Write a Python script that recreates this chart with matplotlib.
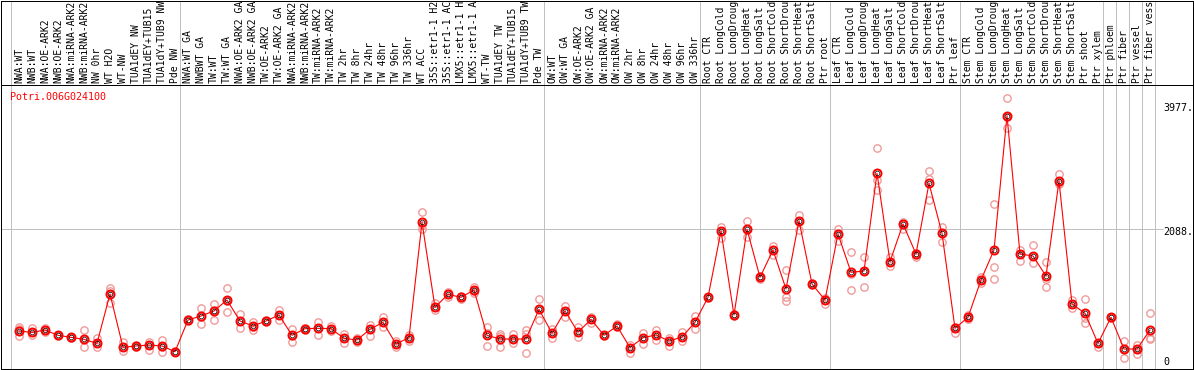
import numpy as np
import matplotlib
matplotlib.use("Agg")
import matplotlib.pyplot as plt

GENE = "Potri.006G024100"

SAMPLES = [
    "NWA:WT", "NWB:WT", "NWA:OE-ARK2", "NWB:OE-ARK2", "NWA:miRNA-ARK2",
    "NWB:miRNA-ARK2", "NW 0hr", "WT H2O", "WT-NW", "TUA1dEY NW",
    "TUA1dEY+TUB15", "TUA1dY+TUB9 NW", "Pde NW",
    "NWA:WT GA", "NWBWT GA", "TW:WT", "TW:WT GA", "NWA:OE-ARK2 GA",
    "NWB:OE-ARK2 GA", "TW:OE-ARK2", "TW:OE-ARK2 GA", "NWA:miRNA-ARK2",
    "NWB:miRNA-ARK2", "TW:miRNA-ARK2", "TW:miRNA-ARK2", "TW 2hr", "TW 8hr",
    "TW 24hr", "TW 48hr", "TW 96hr", "TW 336hr", "WT ACC", "35S::etr1-1 H2",
    "35S::etr1-1 AC", "LMX5::etr1-1 H", "LMX5::etr1-1 A", "WT-TW",
    "TUA1dEY TW", "TUA1dEY+TUB15", "TUA1dY+TUB9 TW", "Pde TW",
    "OW:WT", "OW:WT GA", "OW:OE-ARK2", "OW:OE-ARK2 GA", "OW:miRNA-ARK2",
    "OW:miRNA-ARK2", "OW 2hr", "OW 8hr", "OW 24hr", "OW 48hr", "OW 96hr",
    "OW 336hr",
    "Root CTR", "Root LongCold", "Root LongDroug", "Root LongHeat",
    "Root LongSalt", "Root ShortCold", "Root ShortDrou", "Root ShortHeat",
    "Root ShortSalt", "Ptr root",
    "Leaf CTR", "Leaf LongCold", "Leaf LongDroug", "Leaf LongHeat",
    "Leaf LongSalt", "Leaf ShortCold", "Leaf ShortDrou", "Leaf ShortHeat",
    "Leaf ShortSalt", "Ptr leaf",
    "Stem CTR", "Stem LongCold", "Stem LongDroug", "Stem LongHeat",
    "Stem LongSalt", "Stem ShortCold", "Stem ShortDrou", "Stem ShortHeat",
    "Stem ShortSalt", "Ptr shoot", "Ptr xylem",
    "Ptr phloem", "Ptr fiber", "Ptr vessel", "Ptr fiber vess",
]

# first sample index of each block (gray separators)
GROUP_STARTS = [0, 13, 41, 53, 63, 73, 84, 85, 86, 87, 88]

MEANS = [
    541, 521, 556, 476, 445, 415, 354, 1102, 294, 314, 329, 314, 228,
    708, 769, 845, 1011, 693, 617, 693, 784, 476, 577, 582, 577, 430, 405,
    567, 673, 344, 440, 2189, 900, 1097, 1052, 1163, 476, 420, 420, 420, 870,
    506, 845, 521, 718, 476, 617, 289, 440, 481, 390, 450, 673,
    1052, 2058, 784, 2083, 1355, 1769, 1178, 2214, 1254, 1011,
    2012, 1431, 1451, 2932, 1593, 2164, 1709, 2780, 2022, 582,
    749, 1315, 1769, 3806, 1709, 1679, 1375, 2816, 951, 809, 354,
    749, 268, 268, 556,
]

REPLICATES = [
    [607, 567, 465], [582, 521, 476], [582, 556, 531], [486, 476, 465],
    [455, 440, 430], [556, 415, 294], [430, 354, 294], [1188, 1153, 971],
    [380, 294, 243], [329, 304, 304], [380, 329, 253], [405, 304, 228],
    [243, 228, 228],
    [723, 708, 693], [895, 759, 642], [951, 860, 708], [1188, 1001, 824],
    [794, 693, 582], [683, 607, 556], [708, 693, 678], [860, 784, 708],
    [567, 465, 380], [592, 577, 562], [683, 582, 481], [617, 577, 546],
    [496, 430, 354], [430, 405, 380], [632, 567, 465], [749, 683, 607],
    [395, 344, 294], [481, 440, 395], [2341, 2149, 2088], [971, 900, 860],
    [1128, 1097, 1062], [1072, 1052, 1032], [1214, 1153, 1112],
    [597, 506, 314], [491, 465, 294], [491, 415, 354], [556, 491, 203],
    [1021, 870, 708],
    [567, 506, 440], [920, 845, 749], [607, 521, 455], [759, 718, 668],
    [486, 476, 465], [642, 617, 597], [329, 289, 213], [506, 440, 339],
    [556, 481, 405], [430, 390, 314], [521, 450, 390], [769, 673, 567],
    [1062, 1052, 1037], [2123, 2058, 1946], [794, 784, 774],
    [2209, 2083, 1962], [1375, 1355, 1335], [1835, 1769, 1694],
    [1466, 1062, 1001], [2300, 2214, 2073], [1264, 1254, 1239],
    [1037, 1011, 946],
    [2083, 2012, 1911], [1744, 1401, 1163], [1658, 1451, 1214],
    [3311, 2831, 2679], [1668, 1593, 1527], [2199, 2164, 2088],
    [1719, 1694, 1668], [2967, 2841, 2528], [2113, 2022, 1886],
    [607, 582, 516],
    [784, 749, 718], [1355, 1315, 1264], [2462, 1507, 1325],
    [4069, 3791, 3614], [1770, 1709, 1603], [1845, 1679, 1567],
    [1593, 1325, 1203], [2917, 2790, 2765], [1011, 951, 885],
    [1021, 733, 668], [364, 354, 304],
    [759, 749, 739], [390, 268, 137], [329, 268, 193], [809, 440, 420],
]

Y_TICKS = [0, 2088, 3977]
Y_TICK_LABELS = ["0", "2088.", "3977."]

W, H = 1194, 370
GRAY = "#c0c0c0"
PINK = "#f09a9a"
MONO = "DejaVu Sans Mono"

fig = plt.figure(figsize=(W / 100, H / 100), dpi=100)

# pixel geometry of the original: column i sits at x = 19 + 13 * i
x_left = (1 - 19) / 13
x_right = (1193 - 19) / 13

ax = fig.add_axes([1 / W, 1 / H, 1192 / W, 284 / H])
lab = fig.add_axes([1 / W, 285 / H, 1192 / W, 84.5 / H], sharex=ax)

for a in (ax, lab):
    a.set_xlim(x_left, x_right)
    a.set_xticks([])
    a.set_yticks([])
    for s in a.spines.values():
        s.set_linewidth(0.72)
        s.set_color("black")
    for g in GROUP_STARTS:
        a.axvline(g - 0.615, color=GRAY, lw=0.72, zorder=0)

ax.set_ylim((366.7 - 369) / 0.06596, (366.7 - 85) / 0.06596)
lab.set_ylim(0, 1)

# horizontal midline
ax.hlines(2088, x_left, (1163 - 19) / 13, color=GRAY, lw=0.72, zorder=0)

idx = np.arange(len(SAMPLES))

# replicates
rx = np.concatenate([[i] * len(r) for i, r in enumerate(REPLICATES)])
ry = np.concatenate(REPLICATES)
ax.plot(rx, ry, "o", ms=5.3, mfc="none", mec=PINK, mew=1.0, zorder=2)

# mean line and markers
ax.plot(idx, MEANS, "-", color="red", lw=0.8, zorder=3)
ax.plot(idx, MEANS, "o", ms=5.8, mfc="none", mec="red", mew=1.4, zorder=4)
ax.plot(idx, MEANS, "o", ms=3.4, mfc="none", mec="black", mew=0.5, zorder=5)

# sample labels on top
for i, name in enumerate(SAMPLES):
    lab.text(i, 2 / 84.5, name, rotation=90, ha="center", va="bottom",
             fontsize=7.0, family=MONO, clip_on=True)

# value labels on the right
tick_x = (1163 - 19) / 13
offsets = {0: 76, 2088: -50, 3977: -50}
for v, t in zip(Y_TICKS, Y_TICK_LABELS):
    ax.text(tick_x, v + offsets[v], t, ha="left", va="center",
            fontsize=7.2, family=MONO)

fig.text(10 / W, 1 - 97 / H, GENE, color="red", ha="left", va="center",
         fontsize=7.2, family=MONO)

fig.savefig("out.png", dpi=100)
